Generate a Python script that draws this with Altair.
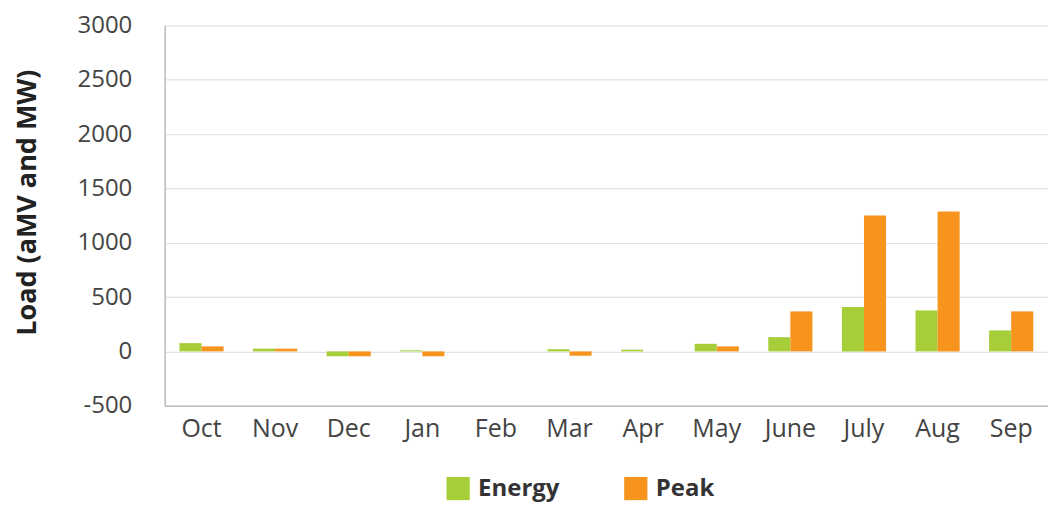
import altair as alt
import pandas as pd

months = ["Oct", "Nov", "Dec", "Jan", "Feb", "Mar", "Apr", "May", "June", "July", "Aug", "Sep"]
energy = [76, 25, -45, 10, 0, 20, 15, 70, 131, 408, 377, 193]
peak = [46, 25, -45, -45, 0, -40, 0, 46, 368, 1251, 1288, 368]
series = ["Energy", "Peak"]
colors = ["#a6ce39", "#f7941e"]

rows = []
for m, e, p in zip(months, energy, peak):
    rows.append({"Month": m, "Series": "Energy", "Load": e})
    rows.append({"Month": m, "Series": "Peak", "Load": p})
df = pd.DataFrame(rows)

font = "Open Sans"

chart = alt.Chart(df).mark_bar().encode(
    x=alt.X("Month:N", sort=months,
            scale=alt.Scale(paddingInner=0.4, paddingOuter=0.2),
            axis=alt.Axis(title=None, labelAngle=0, labelFontSize=25, labelColor="#444444",
                          labelFont=font, ticks=False, labelPadding=11,
                          domainColor="#bbbbbb", domainWidth=1.5, grid=False)),
    xOffset=alt.XOffset("Series:N", sort=series),
    y=alt.Y("Load:Q",
            scale=alt.Scale(domain=[-500, 3000], nice=False),
            axis=alt.Axis(title="Load (aMV and MW)", values=list(range(-500, 3001, 500)),
                          labelExpr="'' + datum.value",
                          labelFontSize=24, labelColor="#444444", labelFont=font,
                          ticks=False, labelPadding=33, titleFont=font, titleFontSize=27,
                          titleFontWeight="bold", titleColor="#222222", titlePadding=36,
                          titleY=177,
                          domainColor="#bbbbbb", domainWidth=1.5,
                          gridColor="#e2e2e2", gridWidth=1.2)),
    color=alt.Color("Series:N", sort=series,
                    scale=alt.Scale(domain=series, range=colors),
                    legend=alt.Legend(title=None, orient="none", direction="horizontal",
                                      legendX=282, legendY=452,
                                      symbolType="square", symbolSize=540,
                                      symbolStrokeWidth=0, symbolOpacity=1,
                                      labelFont=font, labelFontSize=24,
                                      labelFontWeight="bold", labelColor="#333333",
                                      labelOffset=8, columnPadding=64)),
).properties(
    width=885, height=381,
    padding={"left": 5, "top": 5, "right": 0, "bottom": 5},
).configure_view(strokeWidth=0)

chart.save("out.html", embed_options={"renderer": "svg", "actions": False})
